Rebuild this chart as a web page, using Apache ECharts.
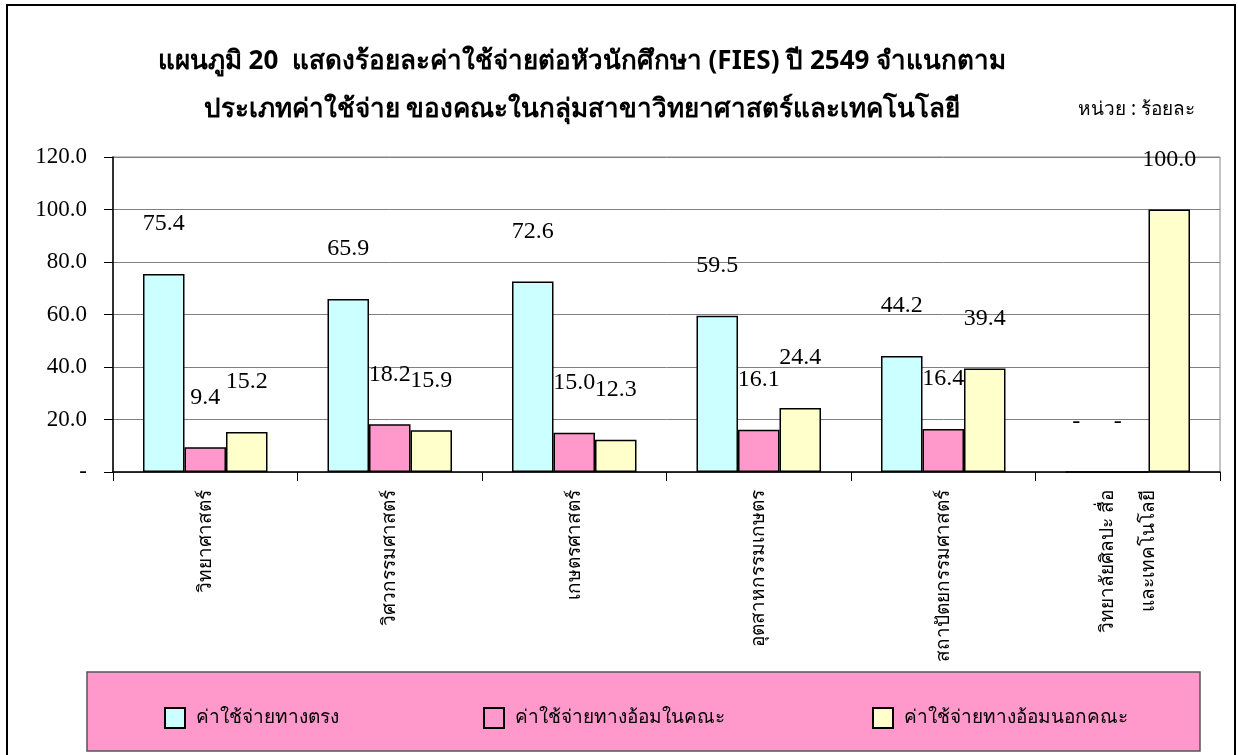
<!DOCTYPE html>
<html>
<head>
<meta charset="utf-8">
<script src="https://cdn.jsdelivr.net/npm/echarts@6/dist/echarts.min.js"></script>
<style>
  html, body { margin: 0; padding: 0; background: #fff; }
  #chart { width: 1238px; height: 755px; }
</style>
</head>
<body>
<div id="chart"></div>
<script>
// categories (faculties)
var categories = ['วิทยาศาสตร์', 'วิศวกรรมศาสตร์', 'เกษตรศาสตร์', 'อุตสาหกรรมเกษตร', 'สถาปัตยกรรมศาสตร์', 'วิทยาลัยศิลปะ สื่อ\nและเทคโนโลยี'];
var seriesNames = ['ค่าใช้จ่ายทางตรง', 'ค่าใช้จ่ายทางอ้อมในคณะ', 'ค่าใช้จ่ายทางอ้อมนอกคณะ'];
var directCost = [75.4, 65.9, 72.6, 59.5, 44.2, 0];
var indirectIn = [9.4, 18.2, 15.0, 16.1, 16.4, 0];
var indirectOut = [15.2, 15.9, 12.3, 24.4, 39.4, 100.0];
var titleLines = ['แผนภูมิ 20  แสดงร้อยละค่าใช้จ่ายต่อหัวนักศึกษา (FIES) ปี 2549 จำแนกตาม', 'ประเภทค่าใช้จ่าย ของคณะในกลุ่มสาขาวิทยาศาสตร์และเทคโนโลยี'];
var unitText = 'หน่วย : ร้อยละ';

var colors = ['#CCFFFF', '#FF99CC', '#FFFFCC'];
var thaiFont = '"Noto Sans", "DejaVu Sans", sans-serif';

var myChart = echarts.init(document.getElementById('chart'));

function fmt(v) {
    return v === 0 ? '-' : v.toFixed(1);
}

// zero values only show a dash, nudged left like the original
function makeData(arr) {
    return arr.map(function(v) {
        return v === 0 ? { value: v, label: { offset: [-10, 0] } } : v;
    });
}

function makeSeries(i, arr) {
    return {
        name: seriesNames[i],
        type: 'bar',
        barWidth: 41.5,
        barGap: '0%',
        data: makeData(arr),
        itemStyle: { color: colors[i], borderColor: '#000', borderWidth: 1.5 },
        label: {
            show: true,
            position: 'top',
            distance: 38,
            formatter: function(p) { return fmt(p.value); },
            fontFamily: '"Liberation Serif", serif',
            fontSize: 24,
            color: '#000'
        }
    };
}

function makeLegend(i, left) {
    return {
        data: [seriesNames[i]],
        left: left,
        top: 702,
        icon: 'rect',
        itemWidth: 20,
        itemHeight: 20,
        textStyle: { fontFamily: thaiFont, fontSize: 19, color: '#000', padding: [0, 0, 0, 6] }
    };
}

var option = {
    backgroundColor: '#fff',
    animation: false,
    graphic: [
        {
            type: 'rect',
            shape: { x: 7, y: 5, width: 1228, height: 770 },
            style: { fill: 'none', stroke: '#000', lineWidth: 2 },
            silent: true
        },
        {
            type: 'rect',
            shape: { x: 87, y: 672, width: 1113, height: 79 },
            style: { fill: '#FF99CC', stroke: '#555', lineWidth: 1.5 },
            z: -1,
            silent: true
        },
        {
            type: 'text',
            x: 582,
            y: 62,
            style: {
                text: titleLines[0],
                font: 'bold 26px ' + thaiFont,
                fill: '#000',
                align: 'center',
                verticalAlign: 'middle'
            }
        },
        {
            type: 'text',
            x: 582,
            y: 110,
            style: {
                text: titleLines[1],
                font: 'bold 26px ' + thaiFont,
                fill: '#000',
                align: 'center',
                verticalAlign: 'middle'
            }
        },
        {
            type: 'text',
            left: 1078,
            top: 100,
            style: {
                text: unitText,
                font: '19px ' + thaiFont,
                fill: '#000'
            }
        }
    ],
    legend: [makeLegend(0, 159), makeLegend(1, 478), makeLegend(2, 867)],
    grid: {
        left: 113,
        right: 18,
        top: 157,
        bottom: 283,
        show: true,
        borderColor: '#888',
        borderWidth: 1,
        backgroundColor: '#fff'
    },
    xAxis: {
        type: 'category',
        data: categories,
        axisLine: { lineStyle: { color: '#000', width: 1.5 } },
        axisTick: { show: true, length: 9, lineStyle: { color: '#000' } },
        axisLabel: {
            rotate: 90,
            margin: 18,
            fontFamily: thaiFont,
            fontSize: 19,
            color: '#000',
            lineHeight: 41
        }
    },
    yAxis: {
        type: 'value',
        min: 0,
        max: 120,
        interval: 20,
        axisLine: { show: true, lineStyle: { color: '#000', width: 1.5 } },
        axisTick: { show: true, length: 9, lineStyle: { color: '#000' } },
        splitLine: { lineStyle: { color: '#808080', width: 1 } },
        axisLabel: {
            margin: 26,
            formatter: fmt,
            fontFamily: '"Liberation Serif", serif',
            fontSize: 23,
            color: '#000'
        }
    },
    series: [
        makeSeries(0, directCost),
        makeSeries(1, indirectIn),
        makeSeries(2, indirectOut)
    ]
};

option && myChart.setOption(option);
</script>
</body>
</html>
